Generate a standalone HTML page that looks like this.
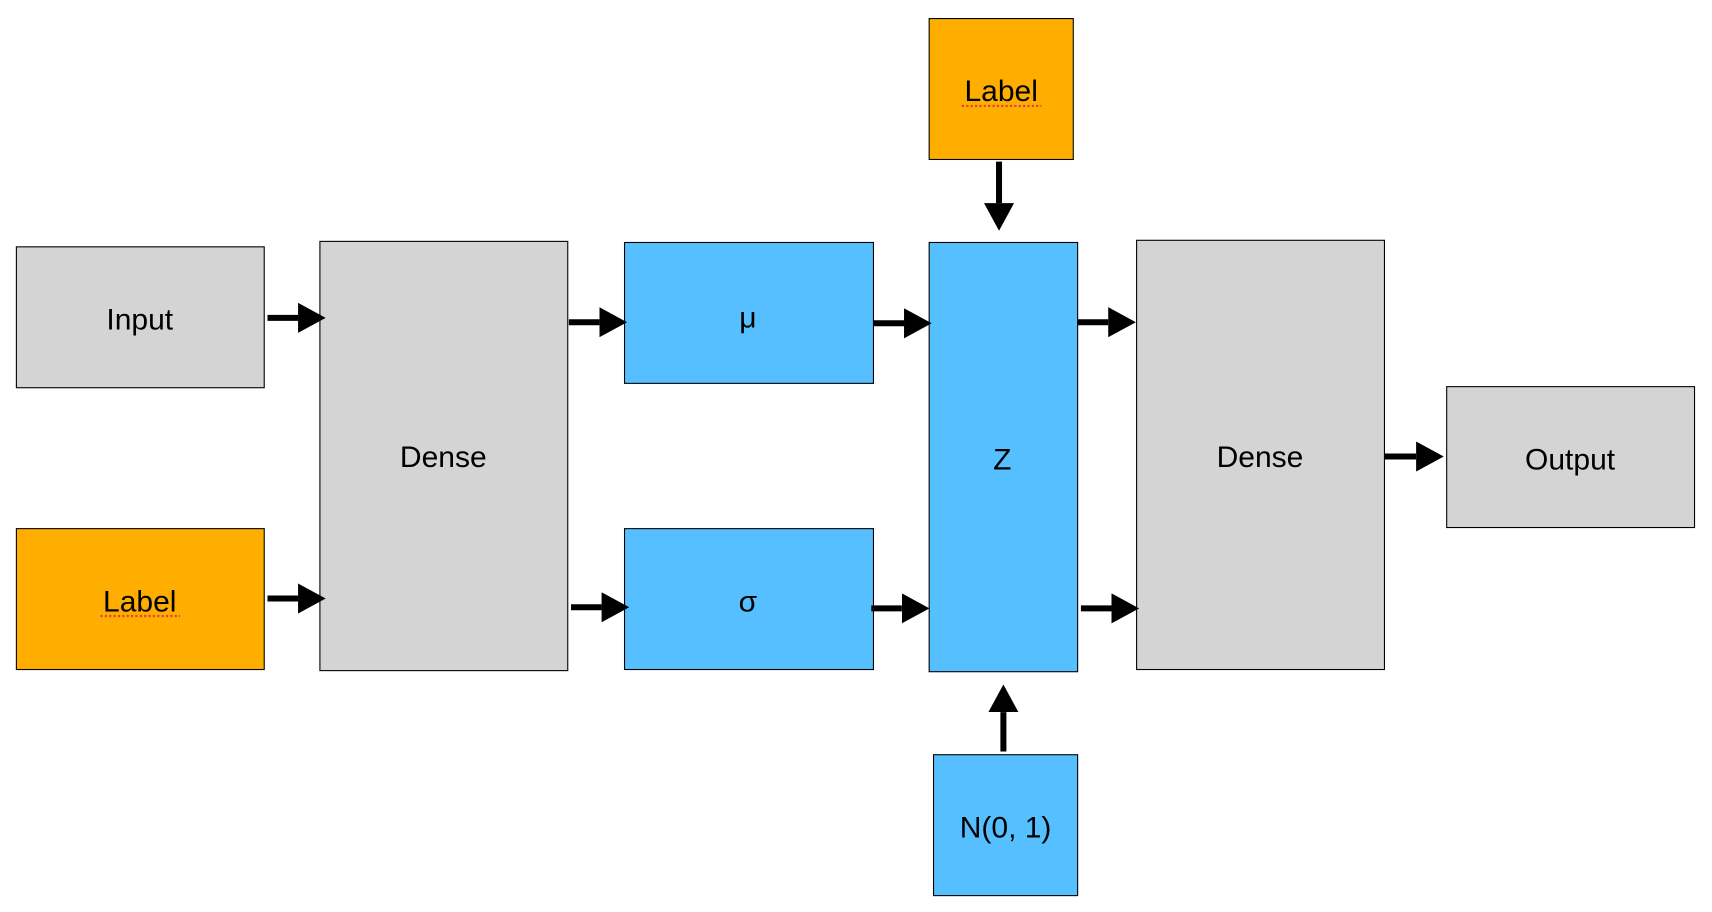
<!DOCTYPE html>
<html><head><meta charset="utf-8"><style>
html,body{margin:0;padding:0;background:#fff;}
svg{display:block;}
text{font-family:"Liberation Sans",sans-serif;font-size:27.5px;text-anchor:middle;dominant-baseline:central;fill:#000;}
</style></head><body>
<svg width="1712" height="912" viewBox="0 0 1568 835" preserveAspectRatio="none" xmlns="http://www.w3.org/2000/svg">
<defs>
<marker id="ah" markerWidth="5" markerHeight="5" refX="0" refY="2.5" orient="auto" markerUnits="strokeWidth">
<path d="M0,0 L4.6,2.5 L0,5 Z" fill="#000"/>
</marker>
</defs>
<g stroke="#000" stroke-width="1">
<rect x="15" y="226" width="227" height="129" fill="#d4d4d4"/>
<rect x="15" y="484" width="227" height="129" fill="#ffae00"/>
<rect x="293" y="221" width="227" height="393" fill="#d4d4d4"/>
<rect x="572" y="222" width="228" height="129" fill="#55bfff"/>
<rect x="572" y="484" width="228" height="129" fill="#55bfff"/>
<rect x="851" y="222" width="136" height="393" fill="#55bfff"/>
<rect x="851" y="17" width="132" height="129" fill="#ffae00"/>
<rect x="855" y="691" width="132" height="129" fill="#55bfff"/>
<rect x="1041" y="220" width="227" height="393" fill="#d4d4d4"/>
<rect x="1325" y="354" width="227" height="129" fill="#d4d4d4"/>
</g>
<g stroke="#000" stroke-width="5.5" marker-end="url(#ah)">
<line x1="245" y1="291" x2="273" y2="291"/>
<line x1="245" y1="548" x2="273" y2="548"/>
<line x1="521" y1="295" x2="549" y2="295"/>
<line x1="523" y1="556" x2="551" y2="556"/>
<line x1="800" y1="296" x2="828" y2="296"/>
<line x1="798" y1="557" x2="826" y2="557"/>
<line x1="987" y1="295" x2="1015" y2="295"/>
<line x1="990" y1="557" x2="1018" y2="557"/>
<line x1="1268" y1="418" x2="1297" y2="418"/>
<line x1="915" y1="148" x2="915" y2="186"/>
<line x1="919" y1="688" x2="919" y2="652"/>
</g>
<text x="128" y="293">Input</text>
<text x="128" y="551">Label</text>
<line x1="92" y1="564" x2="165" y2="564" stroke="#e0413a" stroke-width="2" stroke-dasharray="2,2"/>
<text x="406" y="419">Dense</text>
<text x="685" y="291">μ</text>
<text x="685" y="551">σ</text>
<text x="918" y="421">Z</text>
<text x="917" y="84">Label</text>
<line x1="881" y1="97" x2="954" y2="97" stroke="#e0413a" stroke-width="2" stroke-dasharray="2,2"/>
<text x="921" y="758">N(0, 1)</text>
<text x="1154" y="419">Dense</text>
<text x="1438" y="421">Output</text>
</svg>
</body></html>
